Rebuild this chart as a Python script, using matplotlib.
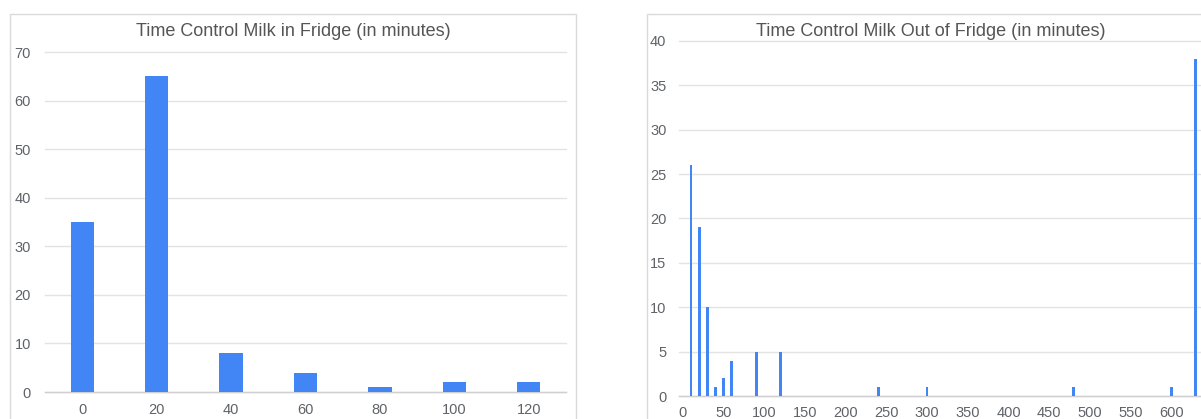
import matplotlib
matplotlib.use("Agg")
import matplotlib.pyplot as plt
from matplotlib.patches import Rectangle

# Minutes the milk stayed in the fridge -> number of occurrences
fridge_minutes = [0, 20, 40, 60, 80, 100, 120]
fridge_counts = [35, 65, 8, 4, 1, 2, 2]

# Minutes the milk stayed out of the fridge -> number of occurrences
out_minutes = [10, 20, 30, 40, 50, 60, 90, 120, 240, 300, 480, 600, 630]
out_counts = [26, 19, 10, 1, 2, 4, 5, 5, 1, 1, 1, 1, 38]

left_title = "Time Control Milk in Fridge (in minutes)"
right_title = "Time Control Milk Out of Fridge (in minutes)"

W, H = 1201, 419
BAR = "#4285f4"
GRID = "#e3e3e3"
BASE = "#cfcfcf"
TICK = "#5f6368"
TITLE = "#555555"
FRAME = "#dadada"

plt.rcParams["font.family"] = ["Liberation Sans", "DejaVu Sans"]

fig = plt.figure(figsize=(W / 100, H / 100), dpi=100)
fig.patch.set_facecolor("white")


def px_axes(x0, y_top, x1, y_bottom):
    return fig.add_axes([x0 / W, (H - y_bottom) / H, (x1 - x0) / W, (y_bottom - y_top) / H])


def style(ax, yticks):
    for s in ax.spines.values():
        s.set_visible(False)
    ax.set_yticks(yticks)
    ax.tick_params(length=0, labelsize=10.5, labelcolor=TICK)
    ax.yaxis.grid(True, color=GRID, linewidth=1)
    ax.set_axisbelow(True)
    for gl in ax.get_ygridlines():
        gl.set_clip_on(False)
    ax.axhline(0, color=BASE, linewidth=1, zorder=1, clip_on=False)


# chart frames
fig.patches.append(Rectangle((10 / W, -0.1), 566 / W, (H - 14) / H + 0.1,
                             transform=fig.transFigure, fill=False,
                             edgecolor=FRAME, linewidth=1))
fig.patches.append(Rectangle((647 / W, -0.1), 0.6, (H - 14) / H + 0.1,
                             transform=fig.transFigure, fill=False,
                             edgecolor=FRAME, linewidth=1))

# left: categorical columns
ax1 = px_axes(45, 52, 566, 392)
pos = list(range(len(fridge_minutes)))
ax1.bar(pos, fridge_counts, width=0.312, color=BAR, zorder=2)
ax1.set_xlim(-0.5, 6.5)
ax1.set_ylim(0, 70)
ax1.set_xticks(pos)
ax1.set_xticklabels([str(m) for m in fridge_minutes])
style(ax1, range(0, 71, 10))
ax1.tick_params(axis="y", pad=10)
ax1.tick_params(axis="x", pad=8)
fig.text(293 / W, 1 - 31 / H, left_title, ha="center", va="center",
         fontsize=13, color=TITLE)

# right: continuous minute axis
ax2 = px_axes(679, 41, 1201, 396)
ax2.bar(out_minutes, out_counts, width=3.4, color=BAR, zorder=2)
ax2.set_xlim(-4.8, 636.5)
ax2.set_ylim(0, 40)
ax2.set_xticks(range(0, 601, 50))
style(ax2, range(0, 41, 5))
ax2.tick_params(axis="y", pad=9)
ax2.tick_params(axis="x", pad=7.5)
fig.text(931 / W, 1 - 31 / H, right_title, ha="center", va="center",
         fontsize=13, color=TITLE)

fig.savefig("out.png", dpi=100)
